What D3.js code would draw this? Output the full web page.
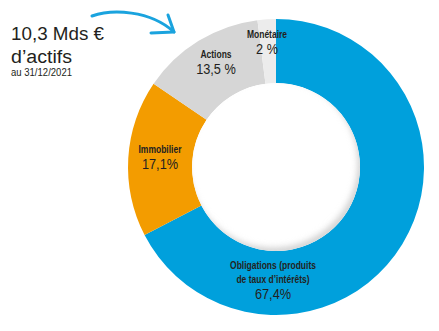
<!DOCTYPE html>
<html><head><meta charset="utf-8">
<script src="https://cdn.jsdelivr.net/npm/d3@7"></script>
<style>
html,body{margin:0;padding:0;background:#fff;}
svg{display:block;}
</style></head>
<body>
<svg id="chart" width="439" height="331"></svg>
<script>
const categories = ["Obligations (produits de taux d’intérêts)", "Immobilier", "Actions", "Monétaire"];
const labelLines = [["Obligations (produits", "de taux d’intérêts)"], ["Immobilier"], ["Actions"], ["Monétaire"]];
const values = [67.4, 17.1, 13.5, 2];
const valueLabels = ["67,4%", "17,1%", "13,5 %", "2 %"];
const colors = ["#00a0dc", "#f39c00", "#d6d6d6", "#ececec"];
const labelPos = [[273, 269], [160, 153], [216, 58], [267, 38]];

const svg = d3.select("#chart");
const cx = 276, cy = 167, rOuter = 148, rInner = 84;
const sans = "'Liberation Sans',Arial,sans-serif";

const defs = svg.append("defs");
const f = defs.append("filter").attr("id","blur").attr("x","-20%").attr("y","-20%").attr("width","140%").attr("height","140%");
f.append("feGaussianBlur").attr("stdDeviation", 3);
defs.append("clipPath").attr("id","hole").append("circle").attr("cx",cx).attr("cy",cy).attr("r",rInner);

const pie = d3.pie().sort(null).value(d => d)(values);
const arc = d3.arc().innerRadius(rInner).outerRadius(rOuter);
const g = svg.append("g").attr("transform", `translate(${cx},${cy})`);
g.selectAll("path").data(pie).join("path")
  .attr("d", arc).attr("fill", (d,i) => colors[i]);

// inner shadow of the hole
const hole = svg.append("g").attr("clip-path","url(#hole)");
hole.append("circle").attr("cx",cx).attr("cy",cy).attr("r",rInner).attr("fill","#fff");
hole.append("circle").attr("cx",cx-3).attr("cy",cy-4).attr("r",rInner+5)
  .attr("fill","none").attr("stroke","#cfcfcf").attr("stroke-width",8).attr("filter","url(#blur)");

// condensed text helper
function condense(sel, k) {
  sel.each(function(){ const w = this.getComputedTextLength(); d3.select(this).attr("textLength", w*k).attr("lengthAdjust","spacingAndGlyphs"); });
}

// labels
const lg = svg.append("g").attr("fill","#231f20").attr("text-anchor","middle");
labelLines.forEach((lines, i) => {
  const [x, y] = labelPos[i];
  lines.forEach((l, j) => {
    lg.append("text").attr("x", x).attr("y", y + j*14)
      .attr("font-family", sans).attr("font-weight","bold").attr("font-size", 10)
      .text(l).call(condense, 0.85);
  });
  lg.append("text").attr("x", x).attr("y", y + (lines.length-1)*14 + 16)
    .attr("font-family", sans).attr("font-size", 14.5).text(valueLabels[i]).call(condense, 0.88);
});

// title
const t = svg.append("g").attr("fill","#231f20");
t.append("text").attr("x", 11).attr("y", 40).attr("font-family", sans)
  .attr("font-size", 18).attr("textLength", 93).attr("lengthAdjust","spacingAndGlyphs").text("10,3 Mds €");
t.append("text").attr("x", 11).attr("y", 63).attr("font-family", sans)
  .attr("font-size", 18).attr("textLength", 61).attr("lengthAdjust","spacingAndGlyphs").text("d’actifs");
t.append("text").attr("x", 11).attr("y", 76).attr("font-family", sans)
  .attr("font-size", 10).attr("textLength", 61).attr("lengthAdjust","spacingAndGlyphs").text("au 31/12/2021");

// arrow
const arrow = svg.append("g").attr("fill","none").attr("stroke","#1aa3de").attr("stroke-width",3).attr("stroke-linecap","round").attr("stroke-linejoin","round");
arrow.append("path").attr("d", "M92,16 C112,9 150,10 174,32");
arrow.append("path").attr("d", "M168,15 L174,32 L151,33");
</script>
</body></html>
